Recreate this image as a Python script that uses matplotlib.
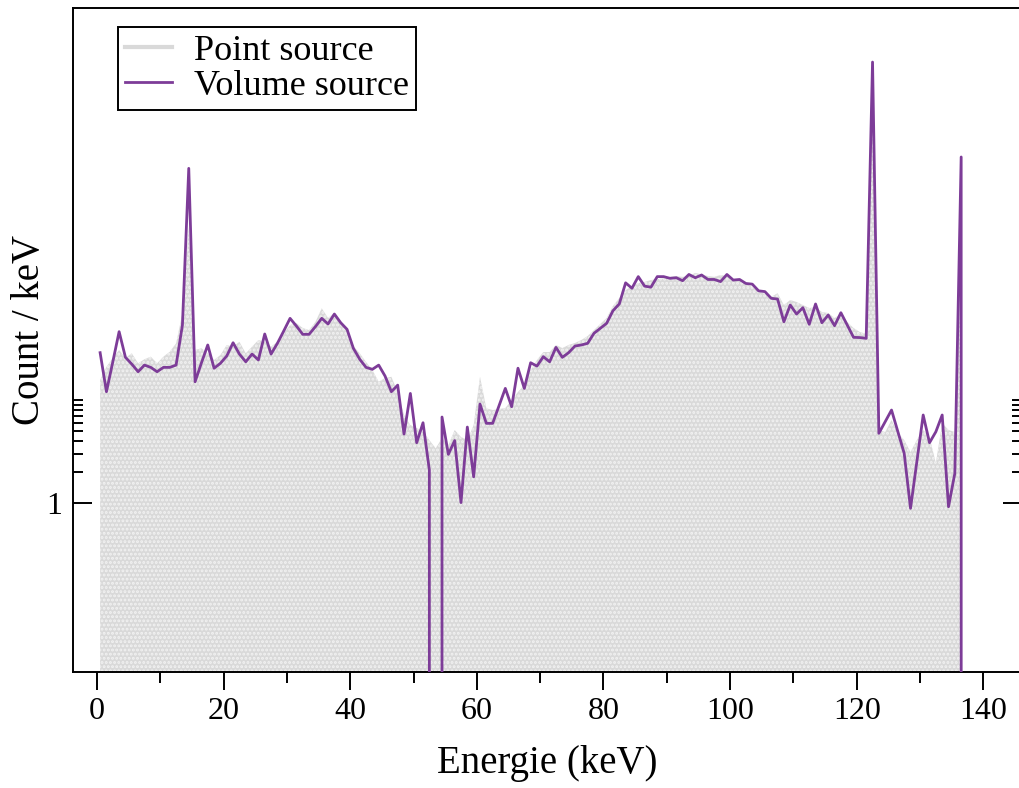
import numpy as np
import matplotlib
matplotlib.use("Agg")
import matplotlib.pyplot as plt

plt.rcParams["font.family"] = "serif"
plt.rcParams["font.serif"] = ["Liberation Serif", "DejaVu Serif"]
plt.rcParams["hatch.linewidth"] = 1.4

# spectra, 1 keV bins (counts / keV)
energy = np.arange(138) + 0.5

point_source = [
    15.8, 21.3, 25.9, 31.0, 25.9, 28.8, 23.0, 25.2, 26.7, 23.0,
    26.7, 29.8, 36.0, 70.6, 493, 31.0, 32.2, 28.8, 24.8, 27.7,
    34.7, 33.4, 37.3, 28.8, 33.4, 38.8, 37.3, 33.4, 37.3, 45.4,
    54.3, 56.8, 50.8, 48.5, 58.1, 79.0, 63.6, 71.1, 58.1, 48.5,
    33.9, 28.8, 23.7, 19.8, 15.2, 16.5, 17.0, 12.1, 7.21, 5.75,
    5.38, 4.92, 4.11, 3.41, 4.30, 3.67, 5.15, 4.40, 4.11, 5.75,
    17.0, 8.37, 8.06, 8.24, 8.43, 10.1, 12.1, 14.1, 19.8, 24.8,
    29.6, 29.6, 34.7, 32.4, 34.7, 36.3, 38.8, 42.4, 48.5, 55.6,
    63.6, 83.2, 99.5, 119, 130, 139, 143, 149, 152, 155,
    160, 163, 160, 163, 175, 169, 163, 160, 167, 163,
    152, 149, 139, 127, 116, 109, 102, 111, 85.1, 95.2,
    91.0, 85.1, 79.5, 81.3, 72.7, 71.1, 63.6, 69.5, 58.1, 50.8,
    46.4, 44.4, 9480, 5.15, 4.92, 6.44, 4.81, 4.11, 3.14, 4.11,
    5.15, 4.40, 2.45, 6.02, 5.15, 4.92, 187,
]

volume_source = [
    29.2, 12.16, 23.7, 46.8, 26.3, 22.6, 19.05, 22.1, 21.0, 19.05,
    21.0, 21.0, 22.1, 54.3, 1828, 15.2, 23.2, 34.7, 20.6, 23.0,
    27.1, 36.5, 28.3, 23.8, 28.3, 24.8, 44.4, 28.3, 36.0, 47.5,
    63.1, 53.1, 44.1, 44.1, 52.3, 63.1, 55.6, 69.5, 57.2, 49.3,
    32.2, 25.2, 21.0, 20.1, 22.1, 17.3, 12.16, 14.1, 4.70, 11.7,
    3.87, 6.06, 2.10, 0.0, 6.89, 2.98, 4.06, 1.01, 5.50, 1.80,
    9.22, 5.98, 5.98, 8.82, 13.1, 8.68, 20.6, 13.1, 23.3, 21.6,
    26.7, 23.8, 32.9, 26.3, 29.2, 33.9, 34.7, 36.0, 45.1, 50.4,
    56.4, 74.8, 87.1, 140, 124, 161, 130, 127, 161, 161,
    155, 157, 147, 169, 157, 167, 151, 151, 144, 169,
    149, 151, 138, 136, 117, 115, 98.9, 97.3, 58.5, 85.1,
    69.5, 80.1, 55.2, 87.1, 57.2, 68.0, 53.5, 71.6, 54.3, 41.2,
    41.0, 40.3, 19860, 4.78, 6.20, 8.06, 4.95, 3.05, 0.888, 2.53,
    7.21, 3.87, 4.95, 7.21, 0.920, 1.95, 2360, 0.0,
]

purple = "#7d3c98"
fill_gray = "#d9d9d9"

fig = plt.figure(figsize=(10.19, 7.88), dpi=100)
ax = fig.add_axes([0.0716, 0.1472, 0.9313, 0.8426])

ymin, ymax = 0.02254, 66780.0
n_point = len(point_source)

ax.fill_between(
    energy[:n_point], 1e-4, point_source,
    facecolor=fill_gray, edgecolor="#f2f2f2", hatch="....", linewidth=0,
    zorder=1,
)
# legend proxy for the filled spectrum
ax.plot([], [], color="#d9d9d9", linewidth=3, label="Point source")
ax.plot(
    energy, volume_source,
    color=purple, linewidth=2.0, label="Volume source", zorder=3,
)

ax.set_yscale("log", nonpositive="clip")
ax.set_xlim(-3.79, 146.1)
ax.set_ylim(ymin, ymax)

ax.set_xticks(np.arange(0, 141, 20))
ax.set_xticks(np.arange(10, 140, 20), minor=True)
ax.set_yticks([1])
ax.set_yticklabels(["1"])
ax.set_yticks(np.arange(2, 11), minor=True)
ax.yaxis.set_minor_formatter(matplotlib.ticker.NullFormatter())

ax.tick_params(axis="x", which="major", direction="out", length=13,
               width=1.4, labelsize=23, pad=5)
ax.tick_params(axis="x", which="minor", direction="out", length=8,
               width=1.4)
ax.tick_params(axis="y", which="major", direction="in", length=14,
               width=1.4, labelsize=23, pad=8, left=True, right=True)
ax.tick_params(axis="y", which="minor", direction="in", length=7,
               width=1.4, left=True, right=True)

for spine in ax.spines.values():
    spine.set_linewidth(1.4)

ax.set_xlabel("Energie (keV)", fontsize=28, labelpad=14)
fig.text(30 / 1019, 1 - 330 / 788, "Count / keV", fontsize=28,
         rotation=90, ha="center", va="center")

leg = ax.legend(
    loc="upper left", bbox_to_anchor=(118 / 1019, 1 - 27 / 788),
    bbox_transform=fig.transFigure, borderaxespad=0,
    fontsize=26, frameon=True, fancybox=False, framealpha=1,
    edgecolor="black", handlelength=1.3, handletextpad=0.6,
    labelspacing=0.05, borderpad=0.2,
)
leg.get_frame().set_linewidth(1.4)

fig.savefig("out.png", dpi=100)
